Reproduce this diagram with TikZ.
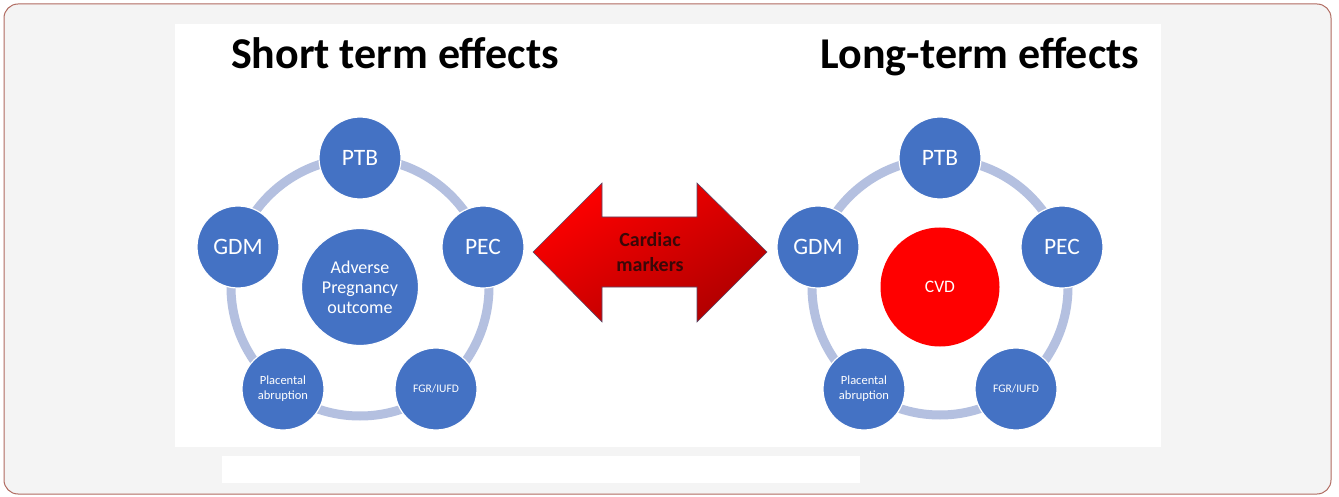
\documentclass[tikz,border=0pt]{standalone}
\usepackage{fontspec}
\setmainfont{Carlito}
\definecolor{frame}{HTML}{B06A60}
\definecolor{bgray}{HTML}{F4F4F4}
\definecolor{nblue}{HTML}{4472C4}
\definecolor{ring}{HTML}{B4C0E0}
\definecolor{darkred}{HTML}{B00000}
\definecolor{arrowedge}{HTML}{5A4A6A}
\definecolor{txtdark}{HTML}{3A0808}
\begin{document}
\begin{tikzpicture}[x=1pt,y=-1pt,
  bluenode/.style={circle,fill=nblue,draw=white,line width=1.2pt,text=white,minimum size=82pt,inner sep=0pt,align=center},
  ringline/.style={draw=ring,line width=9pt},
  titletext/.style={font=\bfseries\fontsize{44}{50}\selectfont,text=black,anchor=base},
  bigtxt/.style={font=\fontsize{23.5}{26}\selectfont},
  midtxt/.style={font=\fontsize{18}{20}\selectfont},
  smalltxt/.style={font=\fontsize{12.5}{15}\selectfont},
  fgrtxt/.style={font=\fontsize{11.5}{13}\selectfont}
]
\useasboundingbox (0,0) rectangle (1339,497);
% outer frame
\draw[frame,fill=bgray,line width=1pt,rounded corners=14pt] (4,4) rectangle (1331,494);
% white panel
\fill[white] (175,24) rectangle (1161,447);
% lower white strip
\fill[white] (222,456) rectangle (860,483);
% titles
\node[titletext] (t1) at (395,69) {Short term effects};
\node[titletext] (t2) at (980,69) {Long-term effects};

% left ring
\coordinate (lc) at (360,287);
\draw[ringline] (lc) circle[radius=129];
\node[bluenode,minimum size=117pt,midtxt] (lcen) at (lc) {Adverse\\Pregnancy\\outcome};
\node[bluenode,bigtxt] (lptb) at (360,158) {PTB};
\node[bluenode,bigtxt] (lgdm) at (238,247) {GDM};
\node[bluenode,bigtxt] (lpec) at (483,247) {PEC};
\node[bluenode,smalltxt] (lpla) at (283,389) {Placental\\abruption};
\node[bluenode,fgrtxt] (lfgr) at (436,389) {FGR/IUFD};

% right ring
\coordinate (rc) at (940,287);
\draw[ringline] (rc) circle[radius=128];
\node[circle,fill=red,text=white,minimum size=119pt,inner sep=0pt,font=\fontsize{17.5}{20}\selectfont] (rcen) at (rc) {CVD};
\node[bluenode,bigtxt] (rptb) at (940,158) {PTB};
\node[bluenode,bigtxt] (rgdm) at (818,247) {GDM};
\node[bluenode,bigtxt] (rpec) at (1062,247) {PEC};
\node[bluenode,smalltxt] (rpla) at (864,389) {Placental\\abruption};
\node[bluenode,fgrtxt] (rfgr) at (1016,389) {FGR/IUFD};

% double arrow
\shadedraw[draw=arrowedge,line width=0.6pt,top color=red,bottom color=darkred,shading angle=30]
  (533,252) -- (602,183) -- (602,217) -- (697,217) -- (697,183) -- (767,252)
  -- (697,322) -- (697,287) -- (602,287) -- (602,322) -- cycle;
\node[text=txtdark,align=center,font=\bfseries\fontsize{20}{25}\selectfont] (cm) at (650,252) {Cardiac\\markers};
\end{tikzpicture}
\end{document}
